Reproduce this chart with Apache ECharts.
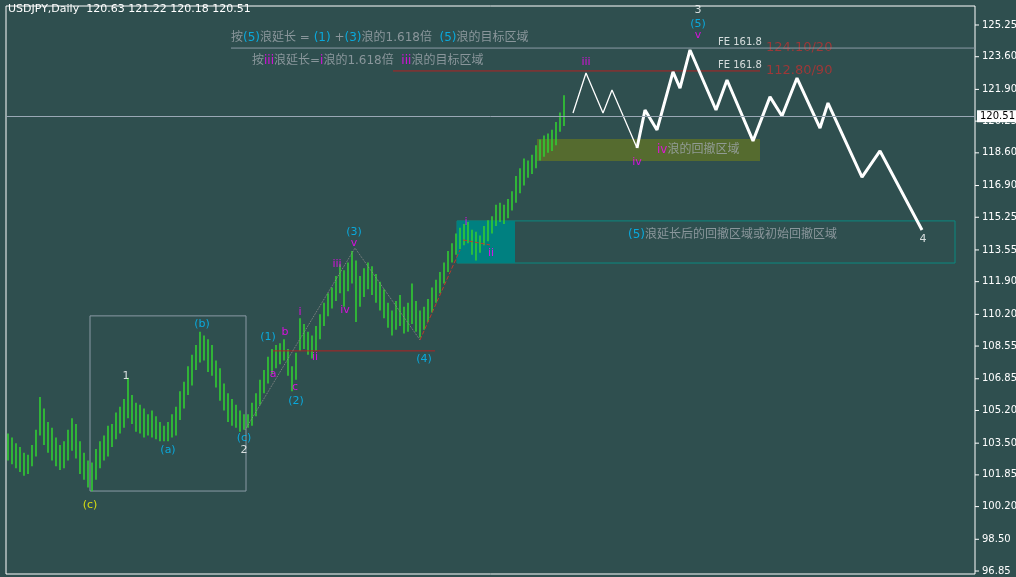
<!DOCTYPE html>
<html><head><meta charset="utf-8">
<script src="https://cdn.jsdelivr.net/npm/echarts@6/dist/echarts.min.js"></script>
<style>html,body{margin:0;padding:0;background:#2F4F4F}#c{width:1016px;height:577px}</style>
</head><body><div id="c"></div>
<script>
var highs=[104.0,103.8,103.5,103.3,103.0,102.9,103.4,104.2,105.9,105.3,
104.6,104.3,103.8,103.4,103.6,104.2,104.8,104.5,103.6,103.0,
102.6,102.5,103.2,103.6,103.9,104.4,104.5,105.1,105.4,105.8,
106.9,106.0,105.6,105.5,105.3,105.0,105.2,104.9,104.6,104.4,
104.6,105.0,105.4,106.2,106.7,107.5,108.1,108.6,109.3,109.1,
108.9,108.6,107.8,107.4,106.6,106.1,105.8,105.5,105.2,105.0,
105.0,105.6,106.1,106.8,107.3,108.0,108.4,108.6,108.7,108.9,
108.4,107.5,108.2,110.0,109.7,109.3,109.1,109.6,110.2,110.8,
111.3,111.6,112.2,112.8,112.5,112.9,113.5,113.0,112.2,112.6,
112.9,112.7,112.3,111.9,111.5,110.8,110.4,110.9,111.2,110.6,
110.8,111.8,110.9,110.4,110.6,111.0,111.6,112.0,112.4,112.9,
113.5,113.9,114.4,114.7,114.9,115.0,114.6,114.5,114.3,114.8,
115.1,115.3,115.9,116.0,115.9,116.2,116.6,117.4,117.8,118.3,
118.2,118.5,119.0,119.3,119.5,119.6,119.8,120.2,120.7,121.6];
var lows=[102.6,102.4,102.2,102.0,101.8,101.9,102.3,102.8,103.9,103.4,
103.0,102.6,102.3,102.1,102.2,102.6,103.1,102.7,101.9,101.6,
101.2,101.0,101.6,102.2,102.6,102.8,103.3,103.7,104.0,104.3,
104.8,104.5,104.1,104.0,103.8,103.9,103.8,103.7,103.6,103.6,
103.6,103.8,103.9,104.7,105.3,106.0,106.5,107.3,107.7,107.8,
107.2,107.0,106.4,105.7,105.2,104.6,104.4,104.3,104.1,104.2,
104.3,104.4,104.9,105.5,106.1,106.6,107.1,107.4,107.6,107.8,
107.0,106.2,106.8,108.3,108.4,108.1,107.9,108.3,108.9,109.6,
110.1,110.5,110.9,111.3,110.6,111.4,111.8,109.8,110.6,111.1,
111.5,111.2,110.8,110.4,110.0,109.5,109.1,109.4,109.6,109.2,
109.3,109.7,109.3,109.0,109.4,109.8,110.3,110.8,111.3,111.8,
112.4,112.9,113.3,113.6,113.8,113.9,113.3,113.0,113.4,113.8,
114.0,114.4,114.8,115.0,114.9,115.2,115.6,116.0,116.5,116.9,
117.3,117.5,117.8,118.2,118.4,118.6,118.7,119.0,119.7,120.0];
var projX=[141.25,144.5,148.75,151,157.25,159.25,162.25,166.25,168,170.5,177,179.75,186.25,190.5,193.5,197.25,203,205,213.5,218,228.5];
var projY=[120.67,122.75,120.67,121.87,118.85,120.83,119.79,122.81,121.97,123.95,120.83,122.39,119.22,121.51,120.52,122.49,119.89,121.19,117.34,118.70,114.59];
var tickLabels=['125.25','123.60','121.90','120.25','118.60','116.90','115.25','113.55','111.90','110.20','108.55','106.85','105.20','103.50','101.85','100.20','98.50','96.85'];
var lastClose=120.51;
var waveLabels=[
 [172.5,126.0,'3','#ffffff'],[172.5,125.3,'(5)','#00BFFF'],[172.5,124.7,'v','#FF00FF'],
 [144.5,123.3,'iii','#FF00FF'],[157.25,118.1,'iv','#FF00FF'],[228.75,114.1,'4','#ffffff'],
 [86.5,114.5,'(3)','#00BFFF'],[86.5,113.9,'v','#FF00FF'],[82.25,112.8,'iii','#FF00FF'],[84.25,110.4,'iv','#FF00FF'],
 [104,107.85,'(4)','#00BFFF'],[73,110.3,'i','#FF00FF'],[76.75,108.0,'ii','#FF00FF'],
 [65,109.0,'(1)','#00BFFF'],[69.25,109.3,'b','#FF00FF'],[66.25,107.1,'a','#FF00FF'],[71.75,106.4,'c','#FF00FF'],
 [72,105.7,'(2)','#00BFFF'],[48.5,109.7,'(b)','#00BFFF'],[29.5,107.0,'1','#ffffff'],
 [40,103.15,'(a)','#00BFFF'],[59,103.75,'(c)','#00BFFF'],[59,103.15,'2','#ffffff'],[20.5,100.3,'(c)','#FFFF00'],
 [114.5,115.0,'i','#FF00FF'],[120.75,113.4,'ii','#FF00FF']
];
var barData=highs.map(function(h,i){return [i,lows[i],h];});
var GRAY='#a0a8ae',CY='#00BFFF',MG='#FF00FF';
var chart=echarts.init(document.getElementById('c'));
var font='"DejaVu Sans","Noto Sans CJK SC",sans-serif';
var rich={g:{color:GRAY,fontSize:12,fontFamily:font},c:{color:CY,fontSize:12,fontFamily:font},m:{color:MG,fontSize:12,fontFamily:font},w:{color:'#fff',fontSize:10,fontFamily:font},r:{color:'#b83232',fontSize:13,fontFamily:font}};
var textItems=[
 [55.75,124.6,'{g|按}{c|(5)}{g|浪延长 = }{c|(1)}{g| +}{c|(3)}{g|浪的1.618倍  }{c|(5)}{g|浪的目标区域}'],
 [61,123.4,'{g|按}{m|iii}{g|浪延长=}{m|i}{g|浪的1.618倍  }{m|iii}{g|浪的目标区域}'],
 [177.5,124.35,'{w|FE 161.8}'],[177.5,123.15,'{w|FE 161.8}'],
 [189.5,124.05,'{r|124.10/20}'],[189.5,122.86,'{r|112.80/90}'],
 [162.25,118.75,'{m|iv}{g|浪的回撤区域}'],
 [155,114.35,'{c|(5)}{g|浪延长后的回撤区域或初始回撤区域}']
];
chart.setOption({
 backgroundColor:'#2F4F4F',animation:false,
 grid:{left:6,right:41,top:6,bottom:3,show:true,borderColor:'#ffffff',borderWidth:1},
 xAxis:{type:'value',min:-0.5,max:241.75,show:false},
 yAxis:{type:'value',min:96.695,max:126.238,show:false},
 graphic:[{type:'text',left:8,top:4,style:{text:'USDJPY,Daily  120.63 121.22 120.18 120.51',fill:'#fff',font:'11px "DejaVu Sans"'}}],
 series:[
  {type:'line',data:[[-0.5,0],[-0.5,0]],silent:true,symbol:'none',lineStyle:{opacity:0},
   markArea:{silent:true,data:[
    [{coord:[20.5,110.12],itemStyle:{color:'rgba(0,0,0,0)',borderColor:'#8a9aa5',borderWidth:1}},{coord:[59.5,101.01]}],
    [{coord:[112.25,115.06],itemStyle:{color:'rgba(0,0,0,0)',borderColor:'#0b8a80',borderWidth:1}},{coord:[236.75,112.87]}],
    [{coord:[112.25,115.06],itemStyle:{color:'#008080'}},{coord:[126.75,112.87]}],
    [{coord:[132.25,119.32],itemStyle:{color:'#556B2F'}},{coord:[188,118.18]}]
   ]}},
  {type:'line',data:[[55.75,124.05],[241.75,124.05]],symbol:'none',lineStyle:{color:'#8a9aa5',width:1},silent:true},
  {type:'line',data:[[96.25,122.86],[188,122.86]],symbol:'none',lineStyle:{color:'#b22222',width:1},silent:true},
  {type:'line',data:[[66.25,108.3],[106.75,108.3]],symbol:'none',lineStyle:{color:'#b22222',width:1},silent:true},
  {type:'line',data:[[59.25,104.19],[86.75,113.65],[103,108.87]],symbol:'none',lineStyle:{color:'#8a8a8a',width:1,type:'dotted'},silent:true},
  {type:'line',data:[[103,108.87],[113,113.55]],symbol:'none',lineStyle:{color:'#c0392b',width:1,type:'dashed'},silent:true},
  {type:'line',data:[[113.75,114.07],[120.5,113.81]],symbol:'none',lineStyle:{color:'#c0392b',width:1,type:'dashed'},silent:true},
  {type:'custom',data:barData,silent:true,renderItem:function(p,api){
    var a=api.coord([api.value(0),api.value(1)]),b=api.coord([api.value(0),api.value(2)]);
    return {type:'line',shape:{x1:a[0],y1:a[1],x2:b[0],y2:b[1]},style:{stroke:'#32CD32',lineWidth:1.6}};},
   markLine:{silent:true,symbol:'none',data:[{yAxis:lastClose}],lineStyle:{color:'#9aa8b5',width:1,type:'solid'},
    label:{position:'end',formatter:'120.51',backgroundColor:'#fff',color:'#000',fontSize:10,fontFamily:'DejaVu Sans',padding:[1,3],distance:2}}},
  {type:'line',data:projX.slice(0,5).map(function(x,i){return [x,projY[i]];}),symbol:'none',lineStyle:{color:'#fff',width:1.3},silent:true},
  {type:'line',data:projX.slice(4).map(function(x,i){return [x,projY[i+4]];}),symbol:'none',lineStyle:{color:'#fff',width:3},silent:true},
  {type:'scatter',symbolSize:0,silent:true,data:waveLabels.map(function(w){return {value:[w[0],w[1]],label:{show:true,formatter:w[2],color:w[3],fontSize:11,fontFamily:font,position:'inside'}};})},
  {type:'scatter',symbolSize:0,silent:true,data:textItems.map(function(t){return {value:[t[0],t[1]],label:{show:true,formatter:t[2],rich:rich,position:'right',distance:0}};})},
  {type:'custom',silent:true,clip:false,data:tickLabels.map(function(t){return [241.75,parseFloat(t),t];}),renderItem:function(p,api){
    var c=api.coord([api.value(0),api.value(1)]);
    return {type:'group',children:[
     {type:'line',shape:{x1:c[0],y1:c[1],x2:c[0]+4,y2:c[1]},style:{stroke:'#fff',lineWidth:1}},
     {type:'text',style:{x:c[0]+7,y:c[1],text:tickLabels[p.dataIndex],fill:'#fff',font:'10px "DejaVu Sans"',verticalAlign:'middle'}}]};}}
 ]
});
</script></body></html>
